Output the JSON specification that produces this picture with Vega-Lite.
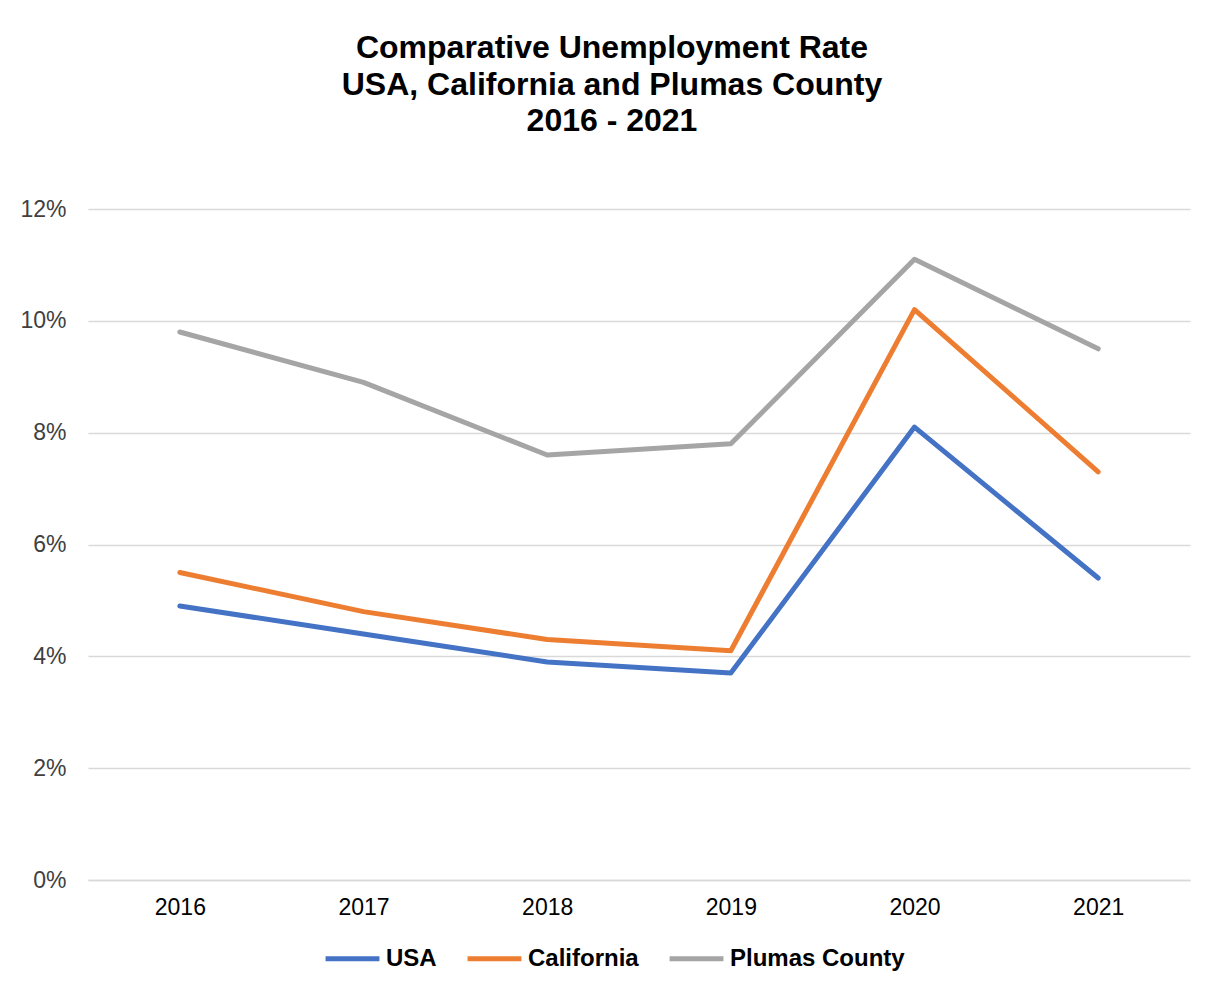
{
  "$schema": "https://vega.github.io/schema/vega-lite/v6.json",
  "autosize": "none",
  "width": 1102,
  "height": 671,
  "padding": {"left": 88, "top": 209, "right": 25, "bottom": 112},
  "background": "white",
  "title": {
    "text": ["Comparative Unemployment Rate", "USA, California and Plumas County", "2016 - 2021"],
    "font": "Liberation Sans",
    "fontSize": 32,
    "fontWeight": "bold",
    "color": "#000000",
    "anchor": "middle",
    "frame": "group",
    "dx": -27,
    "offset": 60,
    "lineHeight": 36.5
  },
  "data": {
    "values": [
      {"year": "2016", "series": "USA", "rate": 0.049},
      {"year": "2017", "series": "USA", "rate": 0.044},
      {"year": "2018", "series": "USA", "rate": 0.039},
      {"year": "2019", "series": "USA", "rate": 0.037},
      {"year": "2020", "series": "USA", "rate": 0.081},
      {"year": "2021", "series": "USA", "rate": 0.054},
      {"year": "2016", "series": "California", "rate": 0.055},
      {"year": "2017", "series": "California", "rate": 0.048},
      {"year": "2018", "series": "California", "rate": 0.043},
      {"year": "2019", "series": "California", "rate": 0.041},
      {"year": "2020", "series": "California", "rate": 0.102},
      {"year": "2021", "series": "California", "rate": 0.073},
      {"year": "2016", "series": "Plumas County", "rate": 0.098},
      {"year": "2017", "series": "Plumas County", "rate": 0.089},
      {"year": "2018", "series": "Plumas County", "rate": 0.076},
      {"year": "2019", "series": "Plumas County", "rate": 0.078},
      {"year": "2020", "series": "Plumas County", "rate": 0.111},
      {"year": "2021", "series": "Plumas County", "rate": 0.095}
    ]
  },
  "mark": {"type": "line", "strokeWidth": 5, "strokeCap": "round", "strokeJoin": "round"},
  "encoding": {
    "x": {
      "field": "year",
      "type": "ordinal",
      "scale": {"paddingInner": 0, "paddingOuter": 0},
      "axis": {
        "title": null,
        "labelAngle": 0,
        "labelFont": "Liberation Sans",
        "labelFontSize": 23,
        "labelColor": "#000000",
        "labelPadding": 16,
        "ticks": false,
        "domain": true,
        "domainColor": "#D9D9D9",
        "domainWidth": 1.5,
        "grid": false
      }
    },
    "y": {
      "field": "rate",
      "type": "quantitative",
      "scale": {"domain": [0, 0.12], "nice": false},
      "axis": {
        "title": null,
        "format": ".0%",
        "values": [0, 0.02, 0.04, 0.06, 0.08, 0.1, 0.12],
        "labelFont": "Liberation Sans",
        "labelFontSize": 23,
        "labelColor": "#404040",
        "labelPadding": 22,
        "ticks": false,
        "domain": false,
        "grid": true,
        "gridColor": "#D9D9D9",
        "gridWidth": 1.5
      }
    },
    "color": {
      "field": "series",
      "type": "nominal",
      "sort": ["USA", "California", "Plumas County"],
      "scale": {"domain": ["USA", "California", "Plumas County"], "range": ["#4472C4", "#ED7D31", "#A5A5A5"]},
      "legend": {
        "title": null,
        "orient": "none",
        "direction": "horizontal",
        "legendX": 235,
        "legendY": 720,
        "symbolType": "stroke",
        "symbolSize": 2900,
        "symbolStrokeWidth": 5,
        "labelFont": "Liberation Sans",
        "labelFontSize": 24,
        "labelFontWeight": "bold",
        "labelColor": "#000000",
        "labelOffset": 4,
        "columnPadding": 20,
        "labelLimit": 400
      }
    }
  },
  "config": {"view": {"stroke": null}}
}
